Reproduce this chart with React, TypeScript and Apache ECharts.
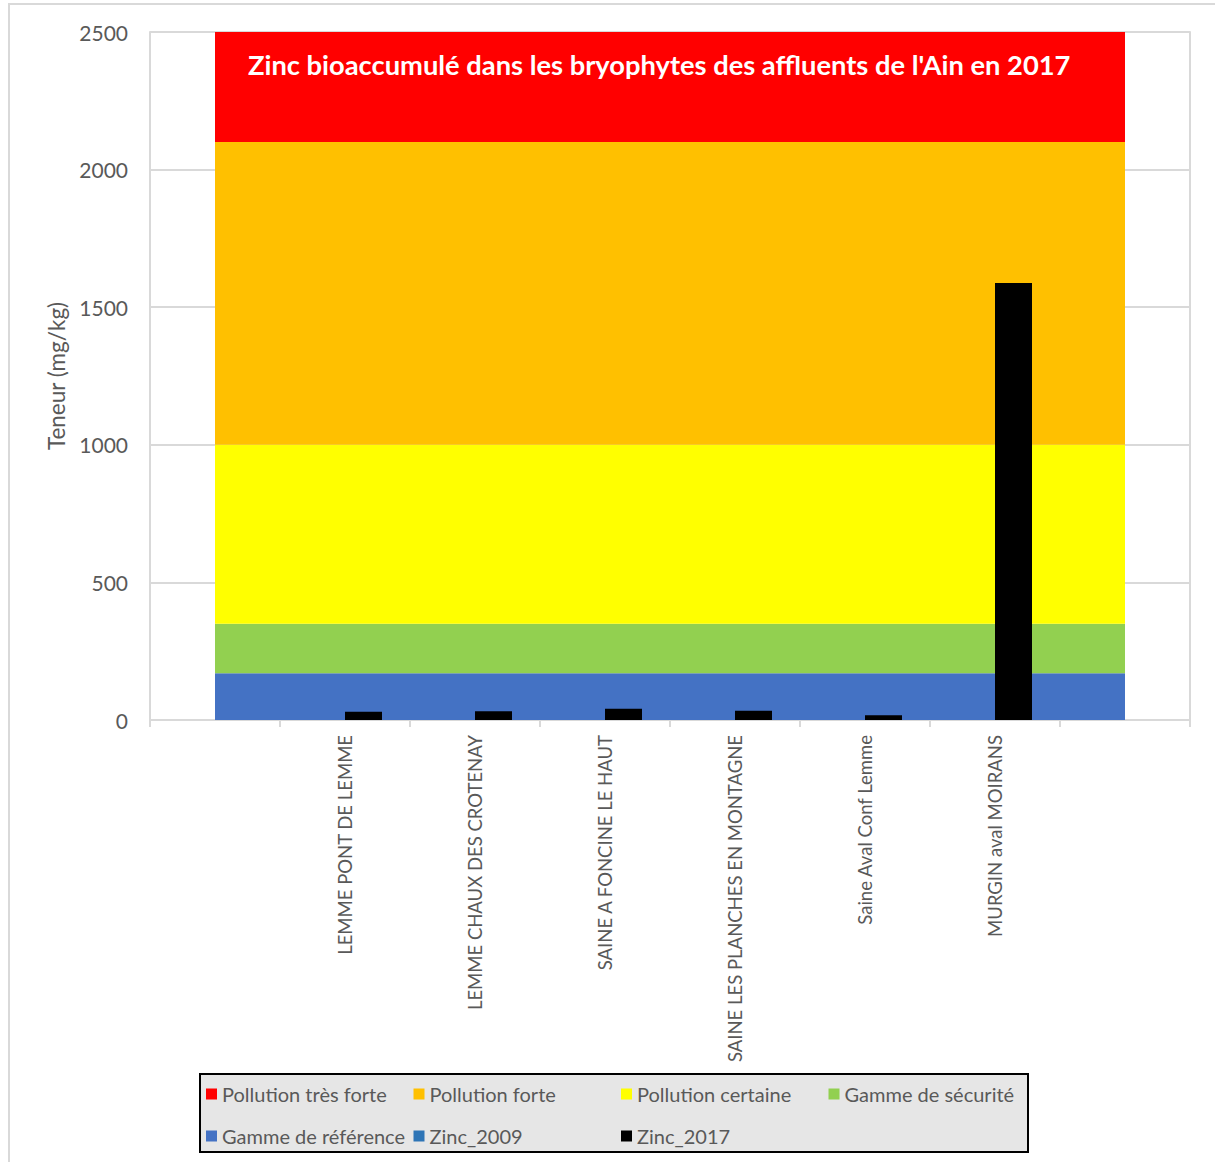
import React, { useEffect, useRef } from "react";
import * as echarts from "echarts";

const categories = [
  "",
  "LEMME PONT DE LEMME",
  "LEMME CHAUX DES CROTENAY",
  "SAINE A FONCINE LE HAUT",
  "SAINE LES PLANCHES EN MONTAGNE",
  "Saine Aval Conf Lemme",
  "MURGIN aval MOIRANS",
  "",
];

const zinc2009: (number | null)[] = [null, null, null, null, null, null, null, null];
const zinc2017: (number | null)[] = [null, 30, 32, 41, 34, 17, 1588, null];

const bandNames = [
  "Gamme de référence",
  "Gamme de sécurité",
  "Pollution certaine",
  "Pollution forte",
  "Pollution très forte",
];
const bandTops = [170, 350, 1000, 2100, 2500];
const bandColors = ["#4472c4", "#92d050", "#ffff00", "#ffc000", "#ff0000"];

const yTicks = { min: 0, max: 2500, interval: 500 };

const FONT = "Lato";
const GRAY = "#595959";
const LINE = "#d9d9d9";

export default function App() {
  const ref = useRef<HTMLDivElement>(null);
  useEffect(() => {
    if (!ref.current) return;
    const chart = echarts.init(ref.current, undefined, { renderer: "svg" });
    const bandSeries = bandNames.map((name, i) => {
      const thickness = bandTops[i] - (i === 0 ? 0 : bandTops[i - 1]);
      return {
        name,
        type: "line",
        stack: "bands",
        symbol: "none",
        lineStyle: { width: 0 },
        areaStyle: { color: bandColors[i], opacity: 1 },
        itemStyle: { color: bandColors[i] },
        data: categories.map(() => thickness),
        z: 1,
        silent: true,
      };
    });
    chart.setOption({
      animation: false,
      textStyle: { fontFamily: FONT },
      title: {
        text: "Zinc bioaccumulé dans les bryophytes des affluents de l'Ain en 2017",
        left: 243,
        top: 46,
        textStyle: { color: "#ffffff", fontSize: 27.3, fontWeight: "bold", fontFamily: FONT },
        z: 10,
      },
      graphic: [
        {
          type: "rect",
          z: 0,
          shape: { x: 9, y: 4, width: 1230, height: 1200 },
          style: { fill: "none", stroke: LINE, lineWidth: 2 },
          silent: true,
        },
        {
          type: "rect",
          z: 0,
          shape: { x: 200, y: 1074, width: 828, height: 78 },
          style: { fill: "#e6e6e6", stroke: "#000000", lineWidth: 2 },
          silent: true,
        },
      ],
      grid: { left: 150, right: 25, top: 32, bottom: 442 },
      legend: {
        left: 199,
        top: 1073,
        padding: [2, 0, 0, 7],
        itemWidth: 11,
        itemHeight: 11,
        itemGap: 4,
        icon: "rect",
        z: 10,
        itemStyle: { borderWidth: 0 },
        data: [
          "Pollution très forte",
          "Pollution forte",
          "Pollution certaine",
          "Gamme de sécurité",
          "Gamme de référence",
          "Zinc_2009",
          "Zinc_2017",
        ],
        textStyle: {
          color: GRAY,
          fontSize: 20,
          fontFamily: FONT,
          width: 187.5,
          lineHeight: 38,
        },
      },
      xAxis: {
        type: "category",
        data: categories,
        boundaryGap: true,
        axisLine: { show: true, lineStyle: { color: LINE, width: 2 } },
        axisTick: { show: true, length: 7, lineStyle: { color: LINE, width: 2 } },
        axisLabel: {
          rotate: 90,
          interval: 0,
          color: GRAY,
          fontSize: 18.5,
          fontFamily: FONT,
          margin: 15,
        },
        splitLine: { show: false },
      },
      yAxis: [
        {
          type: "value",
          min: yTicks.min,
          max: yTicks.max,
          interval: yTicks.interval,
          name: "Teneur (mg/kg)",
          nameLocation: "middle",
          nameGap: 82,
          nameTextStyle: { color: GRAY, fontSize: 22.5, fontFamily: FONT },
          axisLine: { show: true, lineStyle: { color: LINE, width: 2 } },
          axisTick: { show: false },
          axisLabel: {
            color: GRAY,
            fontSize: 21,
            fontFamily: FONT,
            margin: 22,
            formatter: (v: number) => String(v),
          },
          splitLine: { show: true, lineStyle: { color: LINE, width: 2 } },
        },
        {
          type: "value",
          position: "right",
          min: yTicks.min,
          max: yTicks.max,
          interval: yTicks.interval,
          axisLine: { show: true, lineStyle: { color: LINE, width: 2 } },
          axisTick: { show: false },
          axisLabel: { show: false },
          splitLine: { show: false },
        },
      ],
      series: [
        ...bandSeries,
        {
          name: "Zinc_2009",
          type: "bar",
          data: zinc2009,
          barWidth: 37,
          barGap: "0%",
          itemStyle: { color: "#2e75b6" },
          z: 5,
        },
        {
          name: "Zinc_2017",
          type: "bar",
          data: zinc2017,
          barWidth: 37,
          barGap: "0%",
          itemStyle: { color: "#000000" },
          z: 5,
        },
      ],
    });
    return () => chart.dispose();
  }, []);
  return (
    <div style={{ position: "absolute", left: 0, top: 0 }}>
      <div ref={ref} style={{ width: 1215, height: 1162 }} />
    </div>
  );
}
